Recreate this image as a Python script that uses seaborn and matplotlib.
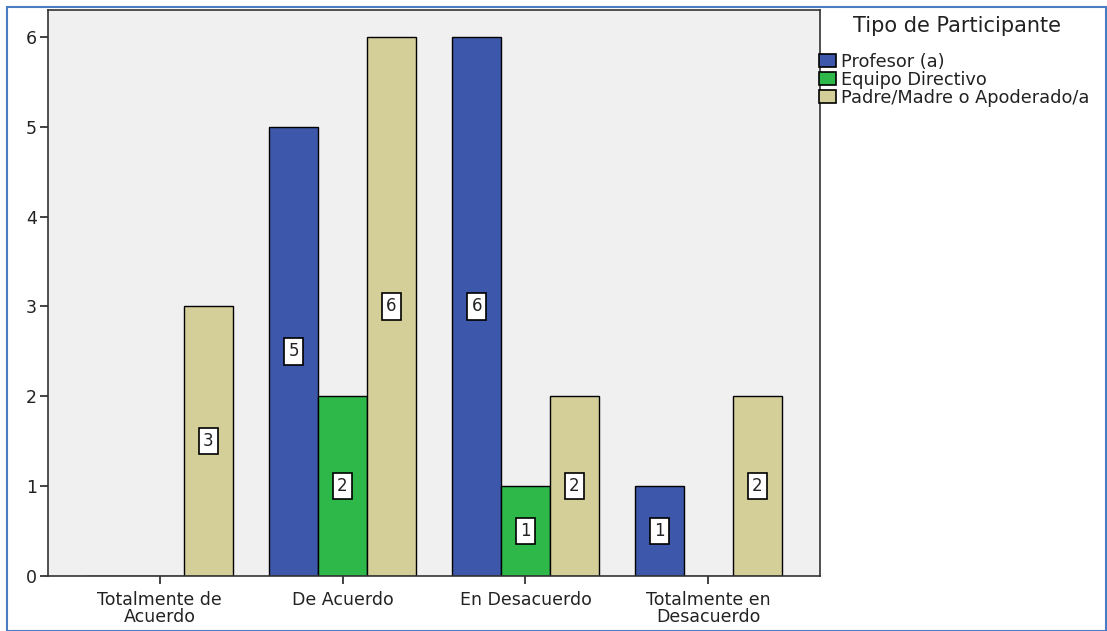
import matplotlib
matplotlib.use("Agg")
import matplotlib.pyplot as plt
import seaborn as sns
import pandas as pd
from matplotlib.patches import Rectangle, Patch

categories = ["Totalmente de\nAcuerdo", "De Acuerdo", "En Desacuerdo", "Totalmente en\nDesacuerdo"]
series_names = ["Profesor (a)", "Equipo Directivo", "Padre/Madre o Apoderado/a"]
profesor = [0, 5, 6, 1]
equipo = [0, 2, 1, 0]
padre = [3, 6, 2, 2]
colors = ["#3D58AB", "#2FB84A", "#D4CE98"]

rows = []
for name, vals in zip(series_names, [profesor, equipo, padre]):
    for c, v in zip(categories, vals):
        rows.append({"cat": c, "tipo": name, "n": v})
df = pd.DataFrame(rows)

sns.set_theme(style="white")
plt.rcParams['font.family'] = ['DejaVu Sans']

fig = plt.figure(figsize=(11.07, 6.31), dpi=100)
ax = fig.add_axes([48/1107, 55/631, (820-48)/1107, (576-10)/631])
ax.set_facecolor("#F0F0F0")

sns.barplot(data=df, x="cat", y="n", hue="tipo", hue_order=series_names, order=categories,
            palette=colors, width=0.8, edgecolor="black", linewidth=1.0, ax=ax,
            legend=False, saturation=1)

for cont in ax.containers:
    for bar in cont:
        h = bar.get_height()
        if h > 0:
            ax.text(bar.get_x() + bar.get_width()/2, h/2, f"{int(h)}", ha="center", va="center",
                    fontsize=12, color="#222222",
                    bbox=dict(boxstyle="square,pad=0.25", facecolor="white", edgecolor="black", linewidth=1.2))

ax.set_xlim(-0.61, 3.61)
ax.set_ylim(0, 6.3)
ax.set_yticks([0, 1, 2, 3, 4, 5, 6])
ax.set_xlabel("")
ax.set_ylabel("")
ax.tick_params(axis="both", which="both", direction="out", length=6, width=1.2, color="#222222",
               labelsize=12.5, left=True, bottom=True, labelcolor="#222222", pad=2)
ax.tick_params(axis="x", pad=5)
for lab in ax.get_xticklabels():
    lab.set_linespacing(0.9)
for s in ax.spines.values():
    s.set_visible(True)
    s.set_color("#333333")
    s.set_linewidth(1.2)

handles = [Patch(facecolor=c, edgecolor="black", linewidth=1.2) for c in colors]
leg = fig.legend(handles, series_names, title="Tipo de Participante", loc="upper left",
                 bbox_to_anchor=(819/1107, 1 - 16/631), frameon=False, fontsize=12.8,
                 title_fontsize=15, handlelength=0.95, handleheight=0.8, handletextpad=0.3,
                 labelspacing=0.0, borderaxespad=0, borderpad=0)
leg._legend_box.align = "left"
leg._legend_box.sep = 12
leg.get_title().set_position((34, 0))
for t in leg.get_texts():
    t.set_color("#222222")
leg.get_title().set_color("#222222")

fig.patches.append(Rectangle((7/1107, 0), 1 - 8/1107, 1 - 7/631, transform=fig.transFigure,
                             fill=False, edgecolor="#4A7CC4", linewidth=1.5))

fig.savefig("out.png", dpi=100)
